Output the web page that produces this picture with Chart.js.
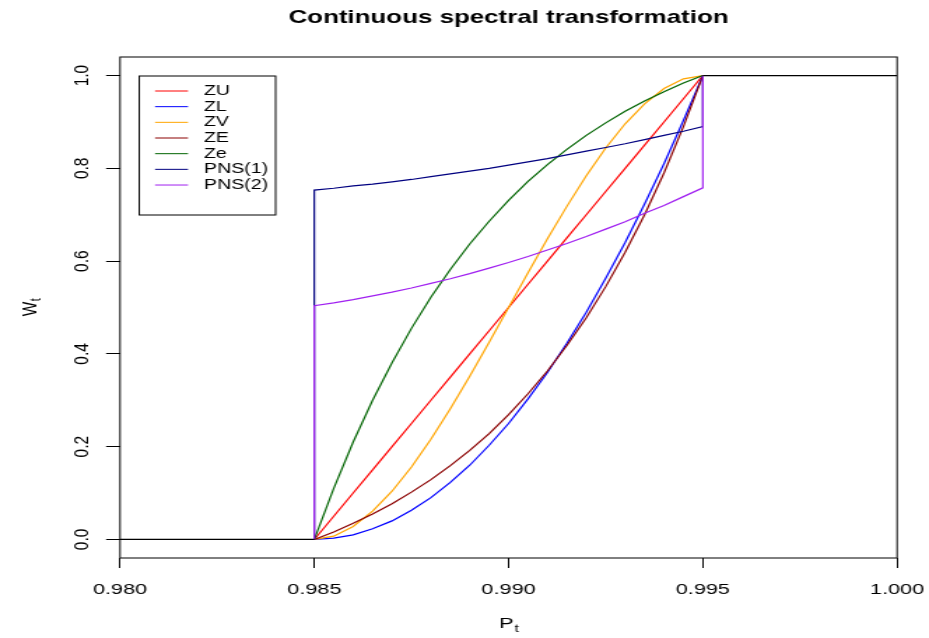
<!DOCTYPE html>
<html>
<head>
<meta charset="utf-8">
<script src="https://cdn.jsdelivr.net/npm/chart.js@4.4.1/dist/chart.umd.min.js"></script>
<style>
html, body { margin: 0; padding: 0; background: #fff; }
#plot { display: block; width: 929px !important; height: 638px !important; }
</style>
</head>
<body>
<canvas id="plot" width="664" height="638"></canvas>
<script>
'use strict'

// P_t values across the transition band
var xGrid = [0.985, 0.9855, 0.986, 0.9865, 0.987, 0.9875, 0.988, 0.9885, 0.989, 0.9895, 0.99,
             0.9905, 0.991, 0.9915, 0.992, 0.9925, 0.993, 0.9935, 0.994, 0.9945, 0.995];

// W_t
var zu   = [0, 0.05, 0.10, 0.15, 0.20, 0.25, 0.30, 0.35, 0.40, 0.45, 0.50, 0.55, 0.60, 0.65, 0.70, 0.75, 0.80, 0.85, 0.90, 0.95, 1];
var zl   = [0, 0.003, 0.010, 0.023, 0.040, 0.063, 0.090, 0.123, 0.160, 0.203, 0.250, 0.303, 0.360, 0.423, 0.490, 0.563, 0.640, 0.723, 0.810, 0.903, 1];
var zv   = [0, 0.007, 0.028, 0.061, 0.104, 0.156, 0.216, 0.282, 0.352, 0.425, 0.500, 0.575, 0.648, 0.718, 0.784, 0.844, 0.896, 0.939, 0.972, 0.993, 1];
var zE   = [0, 0.016, 0.035, 0.055, 0.077, 0.102, 0.129, 0.159, 0.192, 0.228, 0.269, 0.314, 0.363, 0.418, 0.478, 0.545, 0.619, 0.700, 0.790, 0.890, 1];
var ze   = [0, 0.110, 0.210, 0.300, 0.381, 0.455, 0.522, 0.582, 0.637, 0.686, 0.731, 0.772, 0.808, 0.841, 0.871, 0.898, 0.923, 0.945, 0.965, 0.984, 1];
var pns1 = [0.753, 0.757, 0.762, 0.766, 0.771, 0.776, 0.782, 0.788, 0.794, 0.800, 0.807, 0.814, 0.821, 0.829, 0.837, 0.845, 0.853, 0.862, 0.871, 0.880, 0.890];
var pns2 = [0.504, 0.510, 0.517, 0.525, 0.533, 0.542, 0.552, 0.562, 0.573, 0.585, 0.597, 0.610, 0.624, 0.638, 0.653, 0.669, 0.685, 0.703, 0.720, 0.739, 0.758];

// flat parts outside the band
var flatLowX = [0.980, 0.985];
var flatLowY = [0, 0];
var flatHighX = [0.995, 1.000];
var flatHighY = [1, 1];

var xTicks = [0.980, 0.985, 0.990, 0.995, 1.000];
var xTickLabels = ['0.980', '0.985', '0.990', '0.995', '1.000'];
var yTicks = [0, 0.2, 0.4, 0.6, 0.8, 1.0];
var yTickLabels = ['0.0', '0.2', '0.4', '0.6', '0.8', '1.0'];

var FONT = 'Liberation Sans, Arial, Helvetica, sans-serif';

function pts(xs, ys) {
  return xs.map(function (x, i) { return {x: x, y: ys[i]}; });
}

// PNS curves jump up from 0 at the start and to 1 at the end
function withJumps(ys) {
  var last = xGrid.length - 1;
  return [{x: xGrid[0], y: flatLowY[1]}].concat(pts(xGrid, ys), [{x: xGrid[last], y: flatHighY[0]}]);
}

// text with a subscript, centred on x
function drawSub(ctx, main, sub, x, y) {
  ctx.font = '15.5px ' + FONT;
  var w1 = ctx.measureText(main).width;
  ctx.font = '11px ' + FONT;
  var w2 = ctx.measureText(sub).width;
  var start = x - (w1 + w2) / 2;
  ctx.textAlign = 'left';
  ctx.textBaseline = 'middle';
  ctx.font = '15.5px ' + FONT;
  ctx.fillText(main, start, y);
  ctx.font = '11px ' + FONT;
  ctx.fillText(sub, start + w1 + 0.5, y + 5);
}

// fixed axis box sizes, no label overhang
function fixSize(prop, size) {
  return function (s) {
    s[prop] = size;
    s.paddingLeft = 0; s.paddingRight = 0; s.paddingTop = 0; s.paddingBottom = 0;
  };
}

var rStyle = {
  id: 'rStyle',
  afterDraw: function (chart) {
    var ctx = chart.ctx;
    var a = chart.chartArea;
    ctx.save();
    ctx.fillStyle = '#000';
    ctx.strokeStyle = '#000';
    ctx.lineWidth = 1;
    ctx.strokeRect(a.left, a.top, a.right - a.left, a.bottom - a.top);

    ctx.font = 'bold 18.5px ' + FONT;
    ctx.textAlign = 'center';
    ctx.textBaseline = 'middle';
    ctx.fillText('Continuous spectral transformation', (a.left + a.right) / 2, 18);

    drawSub(ctx, 'P', 't', (a.left + a.right) / 2, 624);
    ctx.save();
    ctx.translate(21.4, (a.top + a.bottom) / 2);
    ctx.rotate(-Math.PI / 2);
    drawSub(ctx, 'W', 't', 0, 0);
    ctx.restore();

    // legend box, top left
    var items = chart.data.datasets.filter(function (d) { return d.label; });
    ctx.strokeRect(99.5, 76, 97.5, 139);
    ctx.font = '14px ' + FONT;
    ctx.textAlign = 'left';
    ctx.textBaseline = 'middle';
    items.forEach(function (d, i) {
      var y = 91 + i * 15.67;
      ctx.strokeStyle = d.borderColor;
      ctx.beginPath();
      ctx.moveTo(110.8, y);
      ctx.lineTo(134.4, y);
      ctx.stroke();
      ctx.fillText(d.label, 145.8, y);
    });
    ctx.restore();
  }
};

var tickFont = {family: FONT, size: 15.5};

var chart = new Chart(document.getElementById('plot'), {
  type: 'line',
  data: {
    datasets: [
      {label: 'ZU', data: pts(xGrid, zu), borderColor: '#FF0000', order: 7},
      {label: 'ZL', data: pts(xGrid, zl), borderColor: '#0000FF', order: 6},
      {label: 'ZV', data: pts(xGrid, zv), borderColor: '#FFA500', order: 5},
      {label: 'ZE', data: pts(xGrid, zE), borderColor: '#8B0000', order: 4},
      {label: 'Ze', data: pts(xGrid, ze), borderColor: '#006400', order: 3},
      {label: 'PNS(1)', data: withJumps(pns1), borderColor: '#000080', order: 2},
      {label: 'PNS(2)', data: withJumps(pns2), borderColor: '#A020F0', order: 1},
      {label: '', data: pts(flatLowX, flatLowY), borderColor: '#000', order: 0},
      {label: '', data: pts(flatHighX, flatHighY), borderColor: '#000', order: 0}
    ]
  },
  options: {
    responsive: false,
    animation: false,
    layout: {padding: {top: 57, right: 22.8, left: 0, bottom: 0}},
    elements: {
      line: {borderWidth: 1.2, tension: 0, fill: false},
      point: {radius: 0, hoverRadius: 0}
    },
    plugins: {
      legend: {display: false},
      tooltip: {enabled: false},
      title: {display: false}
    },
    scales: {
      x: {
        type: 'linear',
        min: 0.98,
        max: 1.0,
        afterBuildTicks: function (s) { s.ticks = xTicks.map(function (v) { return {value: v}; }); },
        afterFit: fixSize('height', 80),
        ticks: {
          callback: function (v, i) { return xTickLabels[i]; },
          font: tickFont, color: '#000', padding: 12, maxRotation: 0, autoSkip: false
        },
        grid: {drawOnChartArea: false, drawTicks: true, tickLength: 10, color: '#000', lineWidth: 1},
        border: {display: false}
      },
      y: {
        type: 'linear',
        min: -0.04,
        max: 1.04,
        afterBuildTicks: function (s) { s.ticks = yTicks.map(function (v) { return {value: v}; }); },
        afterFit: fixSize('width', 85.8),
        ticks: {
          callback: function (v, i) { return yTickLabels[i]; },
          font: tickFont, color: '#000', padding: 6, minRotation: 90, maxRotation: 90,
          crossAlign: 'center', autoSkip: false
        },
        grid: {drawOnChartArea: false, drawTicks: true, tickLength: 10, color: '#000', lineWidth: 1},
        border: {display: false}
      }
    }
  },
  plugins: [rStyle]
});
chart.canvas.style.width = '929px';
chart.canvas.style.height = '638px';
</script>
</body>
</html>
